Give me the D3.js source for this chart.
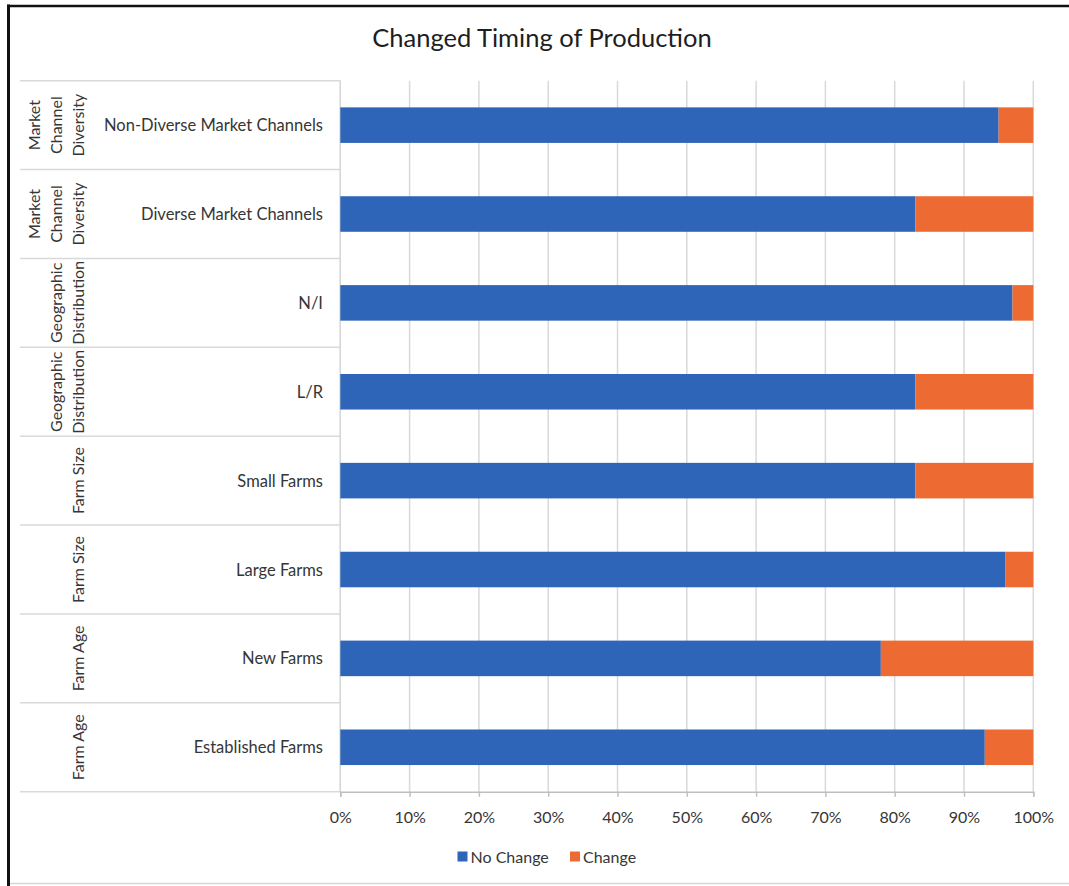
<!DOCTYPE html>
<html>
<head>
<meta charset="utf-8">
<script src="https://cdn.jsdelivr.net/npm/d3@7"></script>
<style>
  html, body { margin: 0; padding: 0; background: #fff; }
  svg { display: block; font-family: Lato, "Open Sans", sans-serif; }
</style>
</head>
<body>
<svg id="chart" width="1069" height="886"></svg>
<script>
// Rows from top to bottom
const categories = [
  "Non-Diverse Market Channels",
  "Diverse Market Channels",
  "N/I",
  "L/R",
  "Small Farms",
  "Large Farms",
  "New Farms",
  "Established Farms"
];
const groups = [
  "Market Channel Diversity",
  "Market Channel Diversity",
  "Geographic Distribution",
  "Geographic Distribution",
  "Farm Size",
  "Farm Size",
  "Farm Age",
  "Farm Age"
];
const noChange = [95, 83, 97, 83, 83, 96, 78, 93];
const change   = [5, 17, 3, 17, 17, 4, 22, 7];
const seriesNames = ["No Change", "Change"];
const seriesColors = ["#2f65b8", "#ee6a33"];
const xTicks = [0, 10, 20, 30, 40, 50, 60, 70, 80, 90, 100];
const title = "Changed Timing of Production";

const W = 1069, H = 886;
const svg = d3.select("#chart");
const textColor = "#363636";
const gridColor = "#d9d9d9";

svg.append("rect").attr("width", W).attr("height", H).attr("fill", "#fff");

// frame
svg.append("line").attr("x1", 8.5).attr("x2", 8.5).attr("y1", 4.5).attr("y2", H)
  .attr("stroke", "#111").attr("stroke-width", 3);
svg.append("line").attr("x1", 7).attr("x2", W).attr("y1", 6).attr("y2", 6)
  .attr("stroke", "#111").attr("stroke-width", 2.5);
svg.append("line").attr("x1", 10).attr("x2", W).attr("y1", 883.5).attr("y2", 883.5)
  .attr("stroke", "#d6d6d6").attr("stroke-width", 1.5);

// title
svg.append("text").attr("x", 542).attr("y", 37)
  .attr("text-anchor", "middle").attr("dominant-baseline", "central")
  .attr("font-size", 25.5).attr("fill", "#1e1e1e").text(title);

const plot = { left: 340.3, right: 1033.3, top: 80.7, bottom: 791.7 };

const x = d3.scaleLinear().domain([0, 100]).range([plot.left, plot.right]);
const y = d3.scaleBand().domain(d3.range(categories.length))
  .range([plot.top, plot.bottom]).paddingInner(0.6).paddingOuter(0.3);
const step = y.step();

// vertical gridlines
svg.append("g").selectAll("line").data(xTicks).join("line")
  .attr("x1", d => x(d)).attr("x2", d => x(d))
  .attr("y1", plot.top).attr("y2", plot.bottom)
  .attr("stroke", gridColor).attr("stroke-width", 1.5);

// row separators of the multi-level category axis
const bounds = d3.range(categories.length + 1).map(i => plot.top + i * (plot.bottom - plot.top) / categories.length);
svg.append("g").selectAll("line").data(bounds).join("line")
  .attr("x1", 20).attr("x2", plot.left)
  .attr("y1", d => d).attr("y2", d => d)
  .attr("stroke", gridColor).attr("stroke-width", 1.5);
svg.append("line").attr("x1", plot.left).attr("x2", plot.left)
  .attr("y1", plot.top).attr("y2", plot.bottom)
  .attr("stroke", gridColor).attr("stroke-width", 1.5);

// stacked bars
const rows = categories.map((c, i) => ({ i, "No Change": noChange[i], "Change": change[i] }));
const stacked = d3.stack().keys(seriesNames)(rows);
svg.append("g").selectAll("g").data(stacked).join("g")
  .attr("fill", (d, k) => seriesColors[k])
  .selectAll("rect").data(d => d).join("rect")
  .attr("x", d => x(d[0]))
  .attr("width", d => x(d[1]) - x(d[0]))
  .attr("y", d => y(d.data.i))
  .attr("height", y.bandwidth());

// x axis
const xAxis = d3.axisBottom(x).tickValues(xTicks).tickFormat(d => d + "%")
  .tickSize(5).tickPadding(15);
const gx = svg.append("g").attr("transform", `translate(0,${plot.bottom})`).call(xAxis);
gx.select(".domain").attr("stroke", "#bfbfbf").attr("stroke-width", 1.5);
gx.selectAll(".tick line").attr("stroke", "#bfbfbf").attr("stroke-width", 1.5);
gx.selectAll(".tick text").attr("font-size", 16).attr("fill", textColor)
  .attr("font-family", "Lato, sans-serif");

// category labels
svg.append("g").selectAll("text").data(categories).join("text")
  .attr("x", 323)
  .attr("y", (d, i) => y(i) + y.bandwidth() / 2)
  .attr("text-anchor", "end").attr("dominant-baseline", "central")
  .attr("font-size", 16.5).attr("fill", textColor)
  .text(d => d);

// group labels, rotated and word-wrapped to the row height
const measurer = svg.append("text").attr("font-size", 16).attr("visibility", "hidden");
function wrap(str, maxW) {
  const words = str.split(" ");
  const lines = [];
  let cur = "";
  words.forEach(w => {
    const test = cur ? cur + " " + w : w;
    measurer.text(test);
    if (cur && measurer.node().getComputedTextLength() > maxW) {
      lines.push(cur); cur = w;
    } else cur = test;
  });
  if (cur) lines.push(cur);
  return lines;
}
const lineGap = 21.7;
const lastLineX = 77;
groups.forEach((g, i) => {
  const lines = wrap(g, step - 6);
  const cy = bounds[i] + step / 2;
  const t = svg.append("text")
    .attr("transform", `translate(0,${cy}) rotate(-90)`)
    .attr("text-anchor", "middle").attr("font-size", 16).attr("fill", textColor);
  lines.forEach((ln, k) => {
    t.append("tspan").attr("x", 0)
      .attr("y", lastLineX - (lines.length - 1 - k) * lineGap)
      .attr("dominant-baseline", "central")
      .text(ln);
  });
});
measurer.remove();

// legend
const legend = svg.append("g");
const legendItems = [{ name: seriesNames[0], x: 457.5 }, { name: seriesNames[1], x: 570 }];
legendItems.forEach((it, k) => {
  legend.append("rect").attr("x", it.x).attr("y", 851.5).attr("width", 10).attr("height", 10)
    .attr("fill", seriesColors[k]);
  legend.append("text").attr("x", it.x + 13).attr("y", 856.5)
    .attr("dominant-baseline", "central").attr("font-size", 16).attr("fill", textColor)
    .text(it.name);
});
</script>
</body>
</html>
